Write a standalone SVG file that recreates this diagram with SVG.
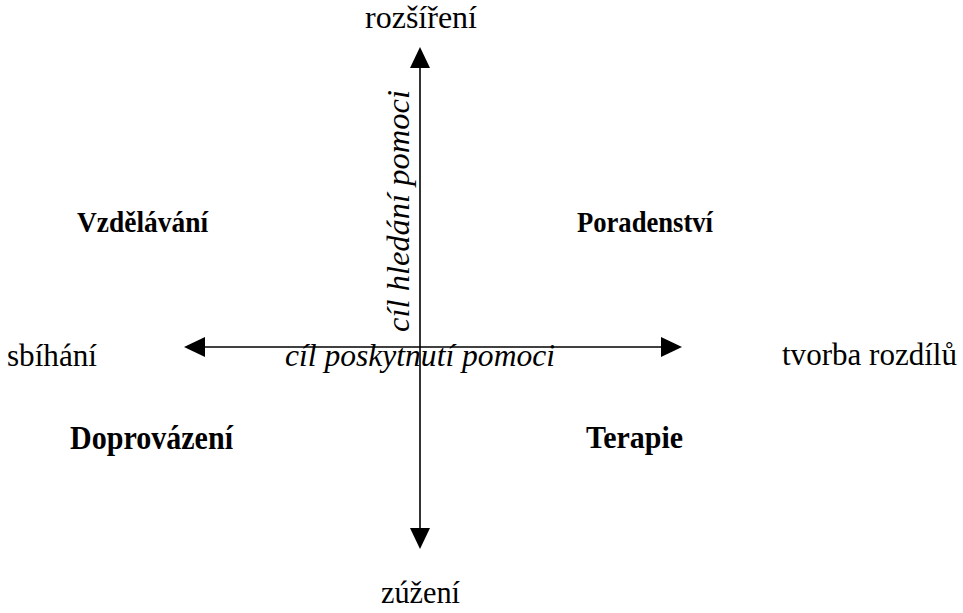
<svg xmlns="http://www.w3.org/2000/svg" width="963" height="613" viewBox="0 0 963 613">
  <style>
    text { font-family: "Liberation Serif", "Times New Roman", Tinos, "DejaVu Serif", serif; fill: #000; }
    .axis { font-size: 32px; }
    .quad { font-size: 29px; font-weight: bold; }
    .lab { font-size: 32px; font-style: italic; }
    .conn { stroke: #000; stroke-width: 1.6; fill: none; }
  </style>
  <defs>
    <marker id="arrow" markerUnits="userSpaceOnUse" markerWidth="21" markerHeight="20" refX="0" refY="10" orient="auto-start-reverse" overflow="visible">
      <path d="M0,0 L21,10 L0,20 Z" fill="#000"/>
    </marker>
  </defs>
  <rect width="963" height="613" fill="#fff"/>
  <g id="connectors">
    <line class="conn" x1="420" y1="528" x2="420" y2="68" marker-start="url(#arrow)" marker-end="url(#arrow)"/>
    <line class="conn" x1="205" y1="347" x2="661" y2="347" marker-start="url(#arrow)" marker-end="url(#arrow)"/>
  </g>
  <g id="axis-top"><text class="axis" x="365" y="28" textLength="112" lengthAdjust="spacingAndGlyphs">rozšíření</text></g>
  <g id="axis-bottom"><text class="axis" x="381" y="603" textLength="79" lengthAdjust="spacingAndGlyphs">zúžení</text></g>
  <g id="axis-left"><text class="axis" x="7" y="366" textLength="90" lengthAdjust="spacingAndGlyphs">sbíhání</text></g>
  <g id="axis-right"><text class="axis" x="782" y="365" textLength="175" lengthAdjust="spacingAndGlyphs">tvorba rozdílů</text></g>
  <g id="label-vertical"><text class="lab" x="0" y="0" transform="translate(409,332) rotate(-90)" textLength="242" lengthAdjust="spacingAndGlyphs">cíl hledání pomoci</text></g>
  <g id="label-horizontal"><text class="lab" x="285" y="366" textLength="270" lengthAdjust="spacingAndGlyphs">cíl poskytnutí pomoci</text></g>
  <g id="q-vzdelavani"><text class="quad" x="77" y="232" textLength="131" lengthAdjust="spacingAndGlyphs">Vzdělávání</text></g>
  <g id="q-poradenstvi"><text class="quad" x="577" y="232" textLength="136" lengthAdjust="spacingAndGlyphs">Poradenství</text></g>
  <g id="q-doprovazeni"><text class="quad" x="70" y="449" style="font-size:33px" textLength="163" lengthAdjust="spacingAndGlyphs">Doprovázení</text></g>
  <g id="q-terapie"><text class="quad" x="586" y="448" style="font-size:31px" textLength="97" lengthAdjust="spacingAndGlyphs">Terapie</text></g>
</svg>
